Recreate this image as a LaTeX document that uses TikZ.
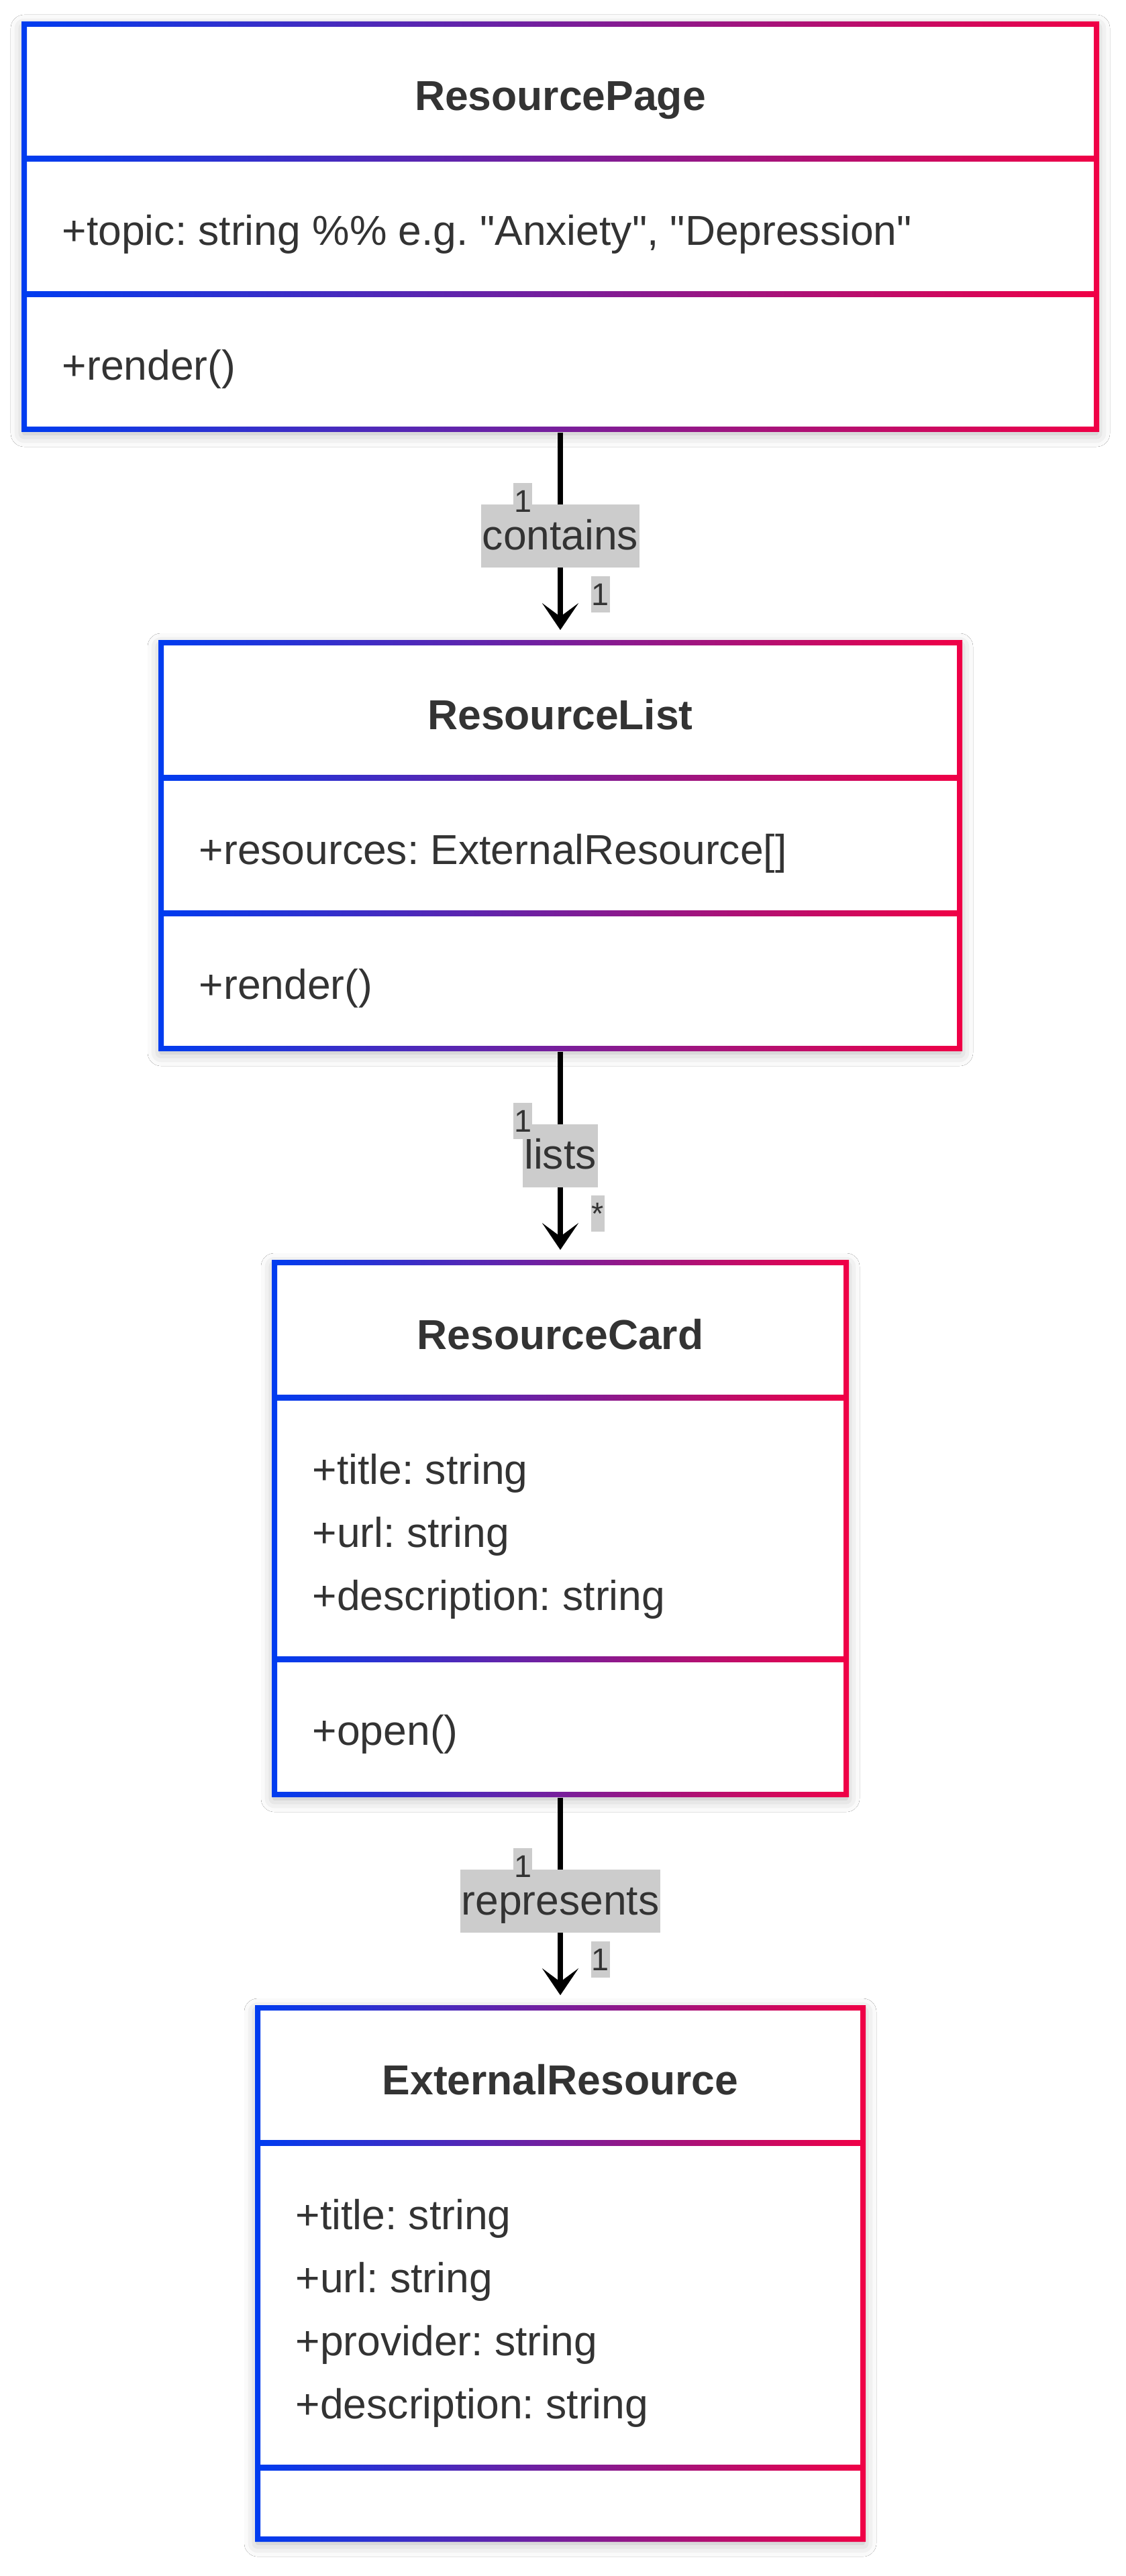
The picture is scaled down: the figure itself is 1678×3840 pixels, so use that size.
\documentclass[tikz,border=0pt]{standalone}
\usepackage{fontspec}
\setmainfont{Liberation Sans}[Ligatures=TeXOff]
\usetikzlibrary{arrows.meta,fit,shadows.blur}
\frenchspacing

\definecolor{umlblue}{RGB}{0,60,240}
\definecolor{umlred}{RGB}{240,0,70}
\definecolor{umltext}{RGB}{51,51,51}

% class frame: name, left, top, right, bottom (pixel units)
\newcommand{\classframe}[5]{%
  \node[fit={(#2,#3) (#4,#5)}, inner sep=0pt] (#1) {};
  \fill[white, blur shadow={shadow xshift=0pt, shadow yshift=-1.5pt, shadow blur radius=5pt, shadow opacity=30}] (#2,#3) rectangle (#4,#5);
  \shade[left color=umlblue, right color=umlred, even odd rule]
    (#2-4,#3-4) rectangle (#4+4,#5+4) (#2+4,#3+4) rectangle (#4-4,#5-4);
}
% compartment line: left, right, y
\newcommand{\classrule}[3]{%
  \shade[left color=umlblue, right color=umlred] (#1,#3-4) rectangle (#2,#3+4);
}

\begin{document}
\begin{tikzpicture}[x=0.25pt, y=-0.25pt,
    classtitle/.style={font=\bfseries\fontsize{15.6}{18}\selectfont, text=umltext, anchor=base, inner sep=0pt},
    member/.style={font=\fontsize{15.6}{18}\selectfont, text=umltext, anchor=base west, inner sep=0pt},
    rel/.style={fill=gray!40, font=\fontsize{15.6}{18}\selectfont, text=umltext, inner xsep=0.5pt, inner ysep=0pt, text height=16.75pt, text depth=6.75pt},
    mult/.style={fill=gray!40, font=\fontsize{11.7}{13.5}\selectfont, text=umltext, inner xsep=0.25pt, inner ysep=0pt, text height=11pt, text depth=2.5pt},
    assoc/.style={line width=2pt, black, -{Stealth[length=10pt, width=13.5pt, inset=5pt]}, shorten >=4.5pt, shorten <=1pt}]

  \fill[white] (0,0) rectangle (1678,3840);
  \useasboundingbox (0,0) rectangle (1678,3840);

  % ResourcePage
  \classframe{page}{36}{36}{1634}{640}
  \classrule{36}{1634}{237}
  \classrule{36}{1634}{439}
  \node[classtitle] (pageName) at (835,165) {ResourcePage};
  \node[member] (pageTopic) at (92,366) {+topic: string \%\% e.g. "Anxiety", "Depression"};
  \node[member] (pageRender) at (92,567) {+render()};

  % ResourceList
  \classframe{list}{240}{958}{1430}{1563}
  \classrule{240}{1430}{1159}
  \classrule{240}{1430}{1361}
  \node[classtitle] (listName) at (835,1087) {ResourceList};
  \node[member] (listRes) at (296,1288) {+resources: ExternalResource[]};
  \node[member] (listRender) at (296,1489) {+render()};

  % ResourceCard
  \classframe{card}{409}{1882}{1261}{2675}
  \classrule{409}{1261}{2083}
  \classrule{409}{1261}{2473}
  \node[classtitle] (cardName) at (835,2011) {ResourceCard};
  \foreach \txt [count=\i from 0] in {+title: string, +url: string, +description: string}
    \node[member] (cardAttr\i) at (465,2212+94*\i) {\txt};
  \node[member] (cardOpen) at (465,2601) {+open()};

  % ExternalResource (no methods)
  \classframe{ext}{384}{2993}{1286}{3785}
  \classrule{384}{1286}{3194}
  \classrule{384}{1286}{3678}
  \node[classtitle] (extName) at (835,3122) {ExternalResource};
  \foreach \txt [count=\i from 0] in {+title: string, +url: string, +provider: string, +description: string}
    \node[member] (extAttr\i) at (440,3323+94*\i) {\txt};

  % associations
  \draw[assoc] (page.south) -- (list.north) node[midway, rel] (containsLbl) {contains};
  \node[mult, anchor=north east] (containsFrom) at (794,719) {1};
  \node[mult, anchor=north west] (containsTo) at (880,858) {1};

  \draw[assoc] (list.south) -- (card.north) node[midway, rel] (listsLbl) {lists};
  \node[mult, anchor=north east] (listsFrom) at (794,1643) {1};
  \node[mult, anchor=north west] (listsTo) at (880,1781) {*};

  \draw[assoc] (card.south) -- (ext.north) node[midway, rel] (representsLbl) {represents};
  \node[mult, anchor=north east] (representsFrom) at (794,2754) {1};
  \node[mult, anchor=north west] (representsTo) at (880,2893) {1};
\end{tikzpicture}
\end{document}
